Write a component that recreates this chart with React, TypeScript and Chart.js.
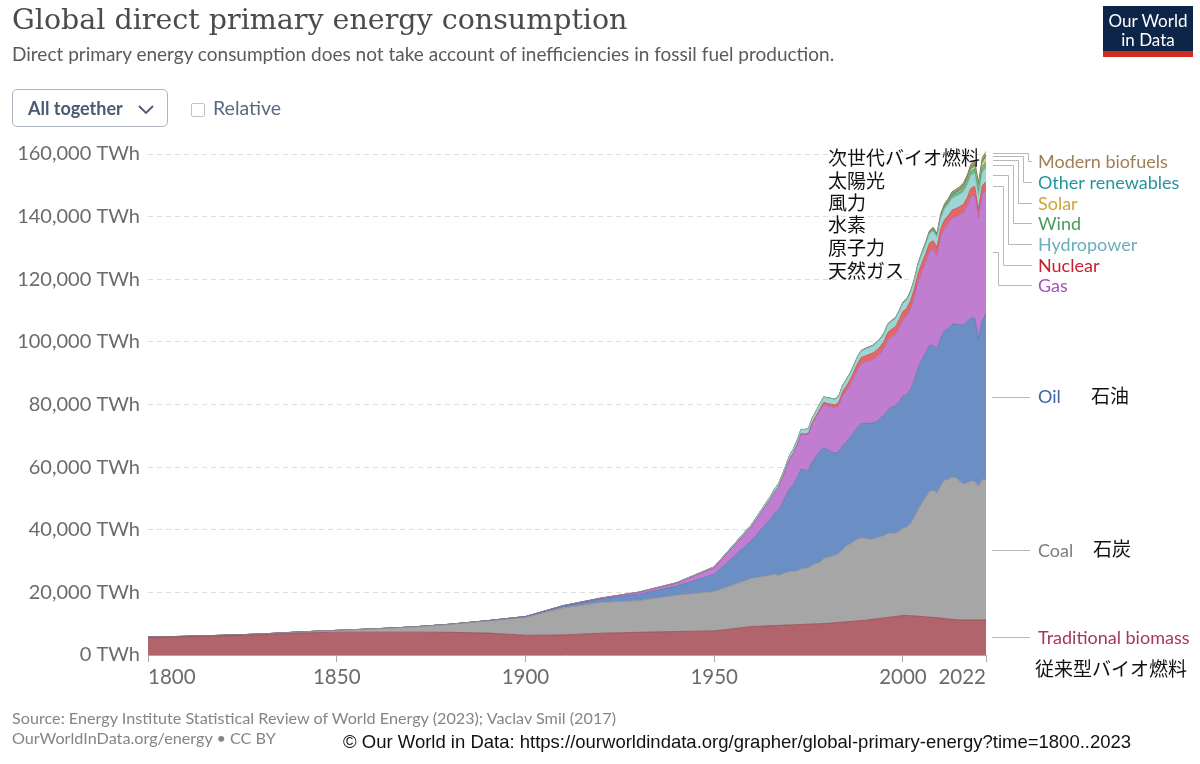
import React, { useEffect, useRef } from 'react';
import { Chart, registerables } from 'chart.js';

Chart.register(...registerables);

// ---------- DATA ----------
const years = [
  1800, 1810, 1820, 1830, 1840, 1850, 1860, 1870, 1880, 1890, 1900, 1910, 1920, 1930, 1940, 1950, 1960,
  1965, 1966, 1967, 1968, 1969, 1970, 1971, 1972, 1973, 1974,
  1975, 1976, 1977, 1978, 1979, 1980, 1981, 1982, 1983, 1984,
  1985, 1986, 1987, 1988, 1989, 1990, 1991, 1992, 1993, 1994,
  1995, 1996, 1997, 1998, 1999, 2000, 2001, 2002, 2003, 2004,
  2005, 2006, 2007, 2008, 2009, 2010, 2011, 2012, 2013, 2014,
  2015, 2016, 2017, 2018, 2019, 2020, 2021, 2022,
];

const traditionalBiomass = [
  5600, 5850, 6150, 6450, 7000, 7300, 7300, 7300, 7250, 7000, 6300, 6400, 6950, 7250, 7500, 7700, 9100,
  9350, 9400, 9450, 9500, 9550, 9600, 9650, 9700, 9750, 9800,
  9850, 9900, 9950, 10000, 10050, 10100, 10200, 10300, 10400, 10500,
  10600, 10700, 10800, 10900, 11000, 11100, 11250, 11400, 11550, 11700,
  11850, 12000, 12150, 12300, 12450, 12650, 12600, 12550, 12500, 12400,
  12300, 12200, 12100, 12000, 11900, 11800, 11650, 11500, 11400, 11300,
  11200, 11200, 11200, 11200, 11200, 11200, 11200, 11200,
];

const coal = [
  97, 128, 153, 264, 356, 569, 1061, 1642, 2542, 3856, 5728, 8656, 9833, 10125, 11586, 12603, 15442,
  16141, 16362, 15984, 16350, 16813, 17060, 17021, 17210, 17787, 17813,
  18080, 18790, 19376, 19658, 20638, 21147, 21349, 21580, 22086, 23170,
  24257, 24729, 25539, 26145, 26468, 26100, 25733, 25671, 25889, 26087,
  26331, 26811, 26771, 26660, 27027, 27904, 28292, 29333, 31652, 34014,
  36165, 38076, 40075, 40583, 39968, 42186, 44252, 44534, 45469, 45352,
  44303, 43463, 43754, 44431, 44223, 42645, 44836, 44854,
];

const oil = [
  0, 0, 0, 0, 0, 0, 0, 6, 33, 89, 181, 511, 1097, 1973, 2918, 5444, 12156,
  18117, 19482, 20829, 22535, 24378, 26519, 27797, 29768, 31905, 31348,
  31162, 33083, 34107, 35349, 35600, 34327, 33393, 32573, 32461, 33230,
  33172, 34120, 34748, 35864, 36489, 36796, 36894, 37084, 37136, 37807,
  38402, 39315, 40290, 40540, 41510, 42119, 42320, 42910, 43681, 45250,
  45770, 46187, 46672, 46361, 45735, 47244, 47606, 48178, 48751, 49062,
  49970, 50745, 51513, 51966, 52138, 47191, 50592, 52970,
];

const gas = [
  0, 0, 0, 0, 0, 0, 0, 0, 0, 33, 64, 161, 233, 603, 875, 2092, 4472,
  6303, 6778, 7279, 7913, 8647, 9395, 10024, 10533, 11055, 11345,
  11441, 12060, 12409, 12922, 13712, 14040, 14313, 14412, 14661, 15819,
  16353, 16709, 17569, 18347, 19152, 19491, 19990, 20159, 20581, 20648,
  21319, 22455, 22413, 22850, 23571, 24435, 24911, 25669, 26374, 27346,
  28128, 28817, 29902, 30596, 29928, 32058, 32811, 33609, 33966, 34308,
  35092, 35849, 36863, 38722, 39281, 38626, 40427, 39413,
];

const nuclear = [
  0, 0, 0, 0, 0, 0, 0, 0, 0, 0, 0, 0, 0, 0, 0, 0, 0,
  26, 35, 44, 56, 65, 80, 111, 154, 203, 250,
  385, 450, 573, 650, 680, 713, 856, 955, 1114, 1326,
  1480, 1600, 1730, 1890, 1925, 2001, 2100, 2120, 2190, 2260,
  2326, 2410, 2398, 2440, 2530, 2580, 2650, 2690, 2640, 2760,
  2768, 2806, 2746, 2737, 2699, 2768, 2652, 2472, 2490, 2540,
  2575, 2612, 2639, 2701, 2796, 2694, 2802, 2680,
];

const hydropower = [
  0, 0, 0, 0, 0, 0, 0, 0, 0, 0, 10, 35, 64, 128, 192, 332, 688,
  923, 980, 1000, 1050, 1110, 1180, 1220, 1270, 1310, 1420,
  1450, 1460, 1500, 1600, 1680, 1730, 1760, 1800, 1870, 1920,
  1970, 1990, 2020, 2080, 2100, 2160, 2210, 2220, 2340, 2370,
  2480, 2520, 2570, 2590, 2610, 2650, 2590, 2630, 2640, 2810,
  2910, 3020, 3070, 3220, 3240, 3430, 3500, 3660, 3780, 3880,
  3880, 4020, 4060, 4180, 4220, 4350, 4270, 4330,
];

const wind = [
  0, 0, 0, 0, 0, 0, 0, 0, 0, 0, 0, 0, 0, 0, 0, 0, 0,
  0, 0, 0, 0, 0, 0, 0, 0, 0, 0,
  0, 0, 0, 0, 0, 0, 0, 0, 0, 0,
  1, 1, 2, 3, 3, 4, 4, 5, 6, 7,
  8, 9, 12, 16, 21, 31, 38, 52, 63, 85,
  104, 133, 171, 220, 276, 346, 437, 523, 640, 712,
  831, 962, 1135, 1270, 1420, 1596, 1848, 2100,
];

const solar = [
  0, 0, 0, 0, 0, 0, 0, 0, 0, 0, 0, 0, 0, 0, 0, 0, 0,
  0, 0, 0, 0, 0, 0, 0, 0, 0, 0,
  0, 0, 0, 0, 0, 0, 0, 0, 0, 0,
  0, 0, 0, 0, 0, 0, 0, 0, 1, 1,
  1, 1, 1, 1, 1, 1, 2, 2, 3, 3,
  4, 6, 8, 12, 20, 34, 64, 100, 137, 190,
  260, 329, 445, 575, 704, 846, 1033, 1310,
];

const otherRenewables = [
  0, 0, 0, 0, 0, 0, 0, 0, 0, 0, 0, 0, 0, 0, 0, 0, 0,
  25, 26, 28, 30, 32, 35, 37, 39, 41, 43,
  45, 48, 52, 57, 63, 70, 78, 86, 94, 102,
  110, 118, 126, 134, 142, 150, 156, 162, 168, 174,
  180, 187, 194, 201, 208, 215, 225, 238, 250, 265,
  280, 305, 330, 355, 385, 420, 455, 490, 525, 560,
  590, 620, 650, 680, 700, 720, 760, 760,
];

const modernBiofuels = [
  0, 0, 0, 0, 0, 0, 0, 0, 0, 0, 0, 0, 0, 0, 0, 0, 0,
  0, 0, 0, 0, 0, 0, 0, 0, 0, 0,
  5, 10, 15, 20, 30, 40, 48, 55, 62, 70,
  80, 82, 84, 86, 88, 95, 96, 97, 98, 99,
  100, 102, 104, 106, 110, 116, 125, 145, 170, 195,
  219, 290, 380, 500, 570, 676, 690, 700, 760, 830,
  873, 890, 940, 1030, 1090, 1010, 1080, 1140,
];

const seriesNames = [
  'Traditional biomass', 'Coal', 'Oil', 'Gas', 'Nuclear',
  'Hydropower', 'Wind', 'Solar', 'Other renewables', 'Modern biofuels',
];
const seriesValues = [
  traditionalBiomass, coal, oil, gas, nuclear,
  hydropower, wind, solar, otherRenewables, modernBiofuels,
];

const xTickValues = [1800, 1850, 1900, 1950, 2000, 2022];
const yTickStep = 20000;
const yMax = 160000;

// ---------- STYLE ----------
const fillColors = ['#b1646b', '#a6a6a6', '#6b8ec5', '#c17ed0', '#e26868', '#9ed6d6', '#6abf80', '#f2d36b', '#46a9a4', '#b9956c'];
const lineColors = ['#954b54', '#8c8c8c', '#5677ad', '#a862b8', '#c84a4a', '#7cb9bc', '#4d9c62', '#d2b34c', '#2d8a86', '#8a6a46'];
const labelColors = ['#a43a52', '#7d7d7d', '#3f63a6', '#a552b8', '#c8202f', '#6aaebb', '#4a9a5e', '#c9a536', '#25959a', '#a07e58'];
// label slots for the upper series (index -> [labelY, elbowX])
const upperSlots: Record<number, [number, number]> = {
  9: [161, 1028],
  8: [182, 1023],
  7: [203, 1018],
  6: [223, 1013],
  5: [244, 1008],
  4: [265, 1003],
  3: [285, 998],
};

const labelsPlugin = {
  id: 'owidLabels',
  afterDraw(chart: any) {
    const ctx = chart.ctx;
    const xs = chart.scales.x;
    const ys = chart.scales.y;
    const area = chart.chartArea;
    ctx.save();
    // x tick labels
    ctx.font = '20.5px Lato';
    ctx.fillStyle = '#6b6b6b';
    ctx.textBaseline = 'middle';
    xTickValues.forEach((v, i) => {
      const px = xs.getPixelForValue(v);
      ctx.textAlign = i === 0 ? 'left' : i === xTickValues.length - 1 ? 'right' : 'center';
      ctx.fillText(String(v), px, area.bottom + 22);
    });
    // series labels + connectors
    let prevTop = ys.getPixelForValue(0);
    const n = chart.data.datasets.length;
    const labelX = area.right + 52;
    ctx.strokeStyle = '#b8b8b8';
    ctx.lineWidth = 1;
    ctx.font = '18px Lato';
    ctx.textAlign = 'left';
    for (let i = 0; i < n; i++) {
      const meta = chart.getDatasetMeta(i);
      const el = meta.data[meta.data.length - 1];
      const top = el.y;
      const mid = (top + prevTop) / 2;
      prevTop = top;
      let ly = mid;
      ctx.beginPath();
      if (upperSlots[i]) {
        const [slotY, elbowX] = upperSlots[i];
        ly = slotY;
        ctx.moveTo(area.right + 7, Math.round(mid) + 0.5);
        ctx.lineTo(elbowX + 0.5, Math.round(mid) + 0.5);
        ctx.lineTo(elbowX + 0.5, slotY + 0.5);
        ctx.lineTo(labelX - 6, slotY + 0.5);
      } else {
        ctx.moveTo(area.right + 6, Math.round(mid) + 0.5);
        ctx.lineTo(labelX - 8, Math.round(mid) + 0.5);
      }
      ctx.stroke();
      ctx.fillStyle = labelColors[i];
      ctx.fillText(seriesNames[i], labelX, ly + 1);
    }
    ctx.restore();
  },
};

const abs = (left: number, top: number, extra: React.CSSProperties = {}): React.CSSProperties => ({
  position: 'absolute', left, top, whiteSpace: 'nowrap', lineHeight: 1, ...extra,
});

export default function App() {
  const canvasRef = useRef<HTMLCanvasElement | null>(null);

  useEffect(() => {
    if (!canvasRef.current) return;
    const datasets = seriesValues.map((vals, i) => ({
      label: seriesNames[i],
      data: years.map((y, k) => ({ x: y, y: vals[k] })),
      backgroundColor: fillColors[i],
      borderColor: lineColors[i],
      borderWidth: 0.8,
      pointRadius: 0,
      tension: 0,
      fill: i === 0 ? 'origin' : '-1',
      clip: false as any,
    }));
    const chart = new Chart(canvasRef.current, {
      type: 'line',
      data: { datasets },
      options: {
        animation: false,
        responsive: false,
        devicePixelRatio: 1,
        layout: { padding: { left: 0, right: 214, top: 154, bottom: 0 } },
        plugins: { legend: { display: false }, tooltip: { enabled: false } },
        elements: { line: { borderJoinStyle: 'round' } },
        scales: {
          x: {
            type: 'linear',
            min: 1800,
            max: 2022,
            afterBuildTicks: (scale: any) => {
              scale.ticks = xTickValues.map((v) => ({ value: v }));
            },
            afterFit: (scale: any) => {
              scale.height = 109;
            },
            ticks: { display: false },
            grid: { drawOnChartArea: false, drawTicks: true, tickLength: 7, color: '#a8a8a8' },
            border: { display: true, color: '#a8a8a8' },
          },
          y: {
            stacked: true,
            min: 0,
            max: yMax,
            afterFit: (scale: any) => {
              scale.width = 148;
            },
            ticks: {
              stepSize: yTickStep,
              padding: 8,
              color: '#6b6b6b',
              font: { family: 'Lato', size: 20 },
              callback: (v: any) => `${Number(v).toLocaleString('en-US')} TWh`,
            },
            grid: { color: '#dddddd', lineWidth: 1, drawTicks: false },
            border: { display: false, dash: [5, 4] },
          },
        },
      },
      plugins: [labelsPlugin],
    });
    return () => chart.destroy();
  }, []);

  const jp: React.CSSProperties = { fontFamily: '"Noto Sans CJK JP"', fontSize: 19, color: '#111' };
  const lato = 'Lato, "Noto Sans", sans-serif';

  return (
    <div style={{ position: 'relative', width: 1200, height: 764, overflow: 'hidden', background: '#fff' }}>
      <style>{`body{margin:0}`}</style>
      <canvas ref={canvasRef} width={1200} height={764} style={{ position: 'absolute', left: 0, top: 0, width: 1200, height: 764 }} />
      <div style={{ position: 'absolute', inset: 0, pointerEvents: 'none' }}>
        <div style={abs(12, 6, { fontFamily: '"DejaVu Serif", serif', fontSize: 28.5, color: '#4b4b4b' })}>
          Global direct primary energy consumption
        </div>
        <div style={abs(12, 44, { fontFamily: lato, fontSize: 19, color: '#5a5a5a' })}>
          Direct primary energy consumption does not take account of inefficiencies in fossil fuel production.
        </div>
        <div style={{ position: 'absolute', left: 12, top: 89, width: 154, height: 36, border: '1px solid #aeb6c2', borderRadius: 5 }}>
          <div style={abs(15, 9, { fontFamily: lato, fontSize: 18, fontWeight: 700, color: '#4b5a72' })}>All together</div>
          <svg style={{ position: 'absolute', left: 124, top: 13 }} width="18" height="12" viewBox="0 0 18 12">
            <path d="M2 3 L9 10 L16 3" fill="none" stroke="#4b5a72" strokeWidth="1.8" />
          </svg>
        </div>
        <div style={{ position: 'absolute', left: 191, top: 103, width: 12, height: 12, border: '1px solid #c3c3c3', borderRadius: 2 }} />
        <div style={abs(213, 98, { fontFamily: lato, fontSize: 19.5, color: '#5b6a82' })}>Relative</div>

        <div style={{ position: 'absolute', left: 1103, top: 6, width: 90, height: 45, background: '#0c2549' }}>
          <div style={{ position: 'absolute', left: 0, top: 5, width: 90, textAlign: 'center', color: '#fff', fontFamily: lato, fontSize: 17, lineHeight: '19px' }}>
            Our World<br />in Data
          </div>
        </div>
        <div style={{ position: 'absolute', left: 1103, top: 51, width: 90, height: 6, background: '#d42b21' }} />

        <div style={abs(828, 147, jp)}>次世代バイオ燃料</div>
        <div style={abs(828, 170, jp)}>太陽光</div>
        <div style={abs(828, 192, jp)}>風力</div>
        <div style={abs(828, 214, jp)}>水素</div>
        <div style={abs(828, 237, jp)}>原子力</div>
        <div style={abs(828, 260, jp)}>天然ガス</div>
        <div style={abs(1091, 385, jp)}>石油</div>
        <div style={abs(1093, 538, jp)}>石炭</div>
        <div style={abs(1035, 658, jp)}>従来型バイオ燃料</div>

        <div style={abs(12, 710, { fontFamily: lato, fontSize: 16.2, color: '#858585' })}>
          Source: Energy Institute Statistical Review of World Energy (2023); Vaclav Smil (2017)
        </div>
        <div style={abs(12, 730, { fontFamily: lato, fontSize: 16.2, color: '#858585' })}>
          OurWorldInData.org/energy • CC BY
        </div>
        <div style={abs(343, 733, { fontFamily: '"Liberation Sans", Arial, sans-serif', fontSize: 18.5, color: '#111' })}>
          © Our World in Data: https://ourworldindata.org/grapher/global-primary-energy?time=1800..2023
        </div>
      </div>
    </div>
  );
}
